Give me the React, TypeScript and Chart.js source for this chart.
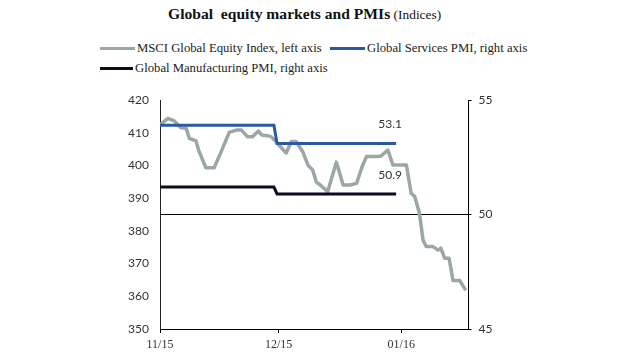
import React, { useEffect, useRef } from "react";
import { Chart, registerables } from "chart.js";

Chart.register(...registerables);

// Days since 1 Nov 2015
const msciDays = [0, 2, 3.6, 5.3, 6.6, 7.4, 9.1, 9.9, 11.6, 13.7, 15.4, 17.5, 19.3, 20.6, 22.1, 23.4, 24.9, 25.7, 27.1, 28.1, 28.9, 31.9, 33.2, 34.4, 36.1, 37.4, 38.6, 39.5, 41, 42.4, 44.6, 46.3, 48, 49.7, 51.1, 52.2, 54.7, 55.9, 57.6, 58.9, 62.3, 63.5, 64.4, 65.6, 66.5, 67.3, 69, 70.3, 71, 72, 73.1, 74.1, 75.8, 77.3];
const msciValues = [412.4, 414.4, 413.6, 411.5, 411.4, 408.3, 407.5, 404.2, 399.3, 399.3, 404.0, 410.1, 410.8, 410.8, 408.8, 408.8, 410.5, 409.3, 409.1, 408.8, 407.8, 403.8, 407.3, 407.3, 404.2, 400.1, 398.6, 395.0, 393.5, 392.0, 401.0, 394.0, 394.0, 394.5, 399.6, 402.7, 402.7, 402.9, 404.7, 400.1, 400.1, 391.5, 390.5, 385.4, 377.2, 375.2, 375.2, 374.1, 374.7, 371.6, 371.6, 364.8, 364.8, 361.8];

const pmiDays = [0, 28.8, 29.6, 59.7];
const servicesPMI = [53.9, 53.9, 53.1, 53.1];
const manufacturingPMI = [51.2, 51.2, 50.9, 50.9];

const tickDays = [0, 30, 61];
const tickLabels = ["11/15", "12/15", "01/16"];

const seriesNames = [
  "MSCI Global Equity Index, left axis",
  "Global Services PMI, right axis",
  "Global Manufacturing PMI, right axis",
];
const colors = { msci: "#9aa7a3", services: "#2a58a6", mfg: "#0b0b22" };

const toXY = (xs: number[], ys: number[]) => xs.map((x, i) => ({ x, y: ys[i] }));

const endLabelPlugin = {
  id: "endLabels",
  afterDatasetsDraw(chart: any) {
    const ctx = chart.ctx;
    ctx.save();
    ctx.font = "12px Lato";
    ctx.fillStyle = "#333";
    ctx.textAlign = "center";
    ctx.textBaseline = "middle";
    [0, 1].forEach((di) => {
      const meta = chart.getDatasetMeta(di);
      const pts = meta.data;
      const last = pts[pts.length - 1];
      const data = chart.data.datasets[di].data;
      const v = data[data.length - 1].y;
      ctx.fillText(v.toFixed(1), last.x - 6, last.y - 19);
    });
    ctx.restore();
  },
};

export default function App() {
  const ref = useRef<HTMLCanvasElement>(null);
  useEffect(() => {
    const chart = new Chart(ref.current!, {
      type: "line",
      data: {
        datasets: [
          {
            label: seriesNames[1],
            data: toXY(pmiDays, servicesPMI),
            yAxisID: "y1",
            borderColor: colors.services,
            borderWidth: 3,
            pointRadius: 0,
            tension: 0,
          },
          {
            label: seriesNames[2],
            data: toXY(pmiDays, manufacturingPMI),
            yAxisID: "y1",
            borderColor: colors.mfg,
            borderWidth: 3,
            pointRadius: 0,
            tension: 0,
          },
          {
            label: seriesNames[0],
            data: toXY(msciDays, msciValues),
            yAxisID: "y",
            borderColor: colors.msci,
            borderWidth: 3.5,
            pointRadius: 0,
            tension: 0,
            borderJoinStyle: "round",
          },
        ],
      },
      options: {
        responsive: false,
        animation: false,
        layout: { padding: { top: 100, left: 0, right: 0, bottom: 0 } },
        plugins: { legend: { display: false }, tooltip: { enabled: false }, title: { display: false } },
        scales: {
          x: {
            type: "linear",
            min: 0,
            max: 78,
            afterBuildTicks: (s: any) => {
              s.ticks = tickDays.map((v) => ({ value: v }));
            },
            afterFit: (s: any) => {
              s.height = 26;
            },
            ticks: {
              autoSkip: false,
              maxRotation: 0,
              padding: 5,
              color: "#333",
              font: { family: "Liberation Serif", size: 12 },
              callback: (v: any) => {
                const i = tickDays.indexOf(v);
                return i >= 0 ? tickLabels[i] : "";
              },
            },
            grid: { drawOnChartArea: false, drawTicks: true, tickLength: 4, tickColor: "#000", color: "#000" },
            border: { display: true, color: "#000", width: 1 },
          },
          y: {
            position: "left",
            min: 350,
            max: 420,
            afterFit: (s: any) => {
              s.width = 160;
            },
            ticks: {
              stepSize: 10,
              padding: 11,
              color: "#333",
              font: { family: "Lato", size: 12 },
            },
            grid: { drawOnChartArea: false, drawTicks: false, color: "rgba(0,0,0,0)" },
            border: { display: true, color: "#222", width: 1 },
          },
          y1: {
            position: "right",
            min: 45,
            max: 55,
            afterFit: (s: any) => {
              s.width = 151.5;
            },
            ticks: {
              stepSize: 5,
              padding: 7,
              color: "#333",
              font: { family: "Lato", size: 12 },
            },
            grid: {
              drawOnChartArea: true,
              drawTicks: true,
              tickLength: 3,
              tickColor: "#000",
              color: (c: any) => (c.tick && c.tick.value === 50 ? "#000" : "rgba(0,0,0,0)"),
              lineWidth: 1,
            },
            border: { display: true, color: "#000", width: 1 },
          },
        },
      },
      plugins: [endLabelPlugin],
    } as any);
    return () => chart.destroy();
  }, []);

  const legendText: React.CSSProperties = {
    fontFamily: "Liberation Serif",
    fontSize: 12.7,
    color: "#222",
    whiteSpace: "nowrap",
  };
  const item = (left: number, top: number, color: string, text: string, lineW: number) => (
    <div style={{ position: "absolute", left, top, display: "flex", alignItems: "center", height: 14 }}>
      <div style={{ width: lineW, height: 3, background: color, marginRight: 2 }} />
      <span style={legendText}>{text}</span>
    </div>
  );

  return (
    <div style={{ position: "fixed", left: 0, top: 0, width: 620, height: 355, background: "#fff" }}>
      <div
        style={{
          position: "absolute",
          left: 168,
          top: 4,
          whiteSpace: "nowrap",
          fontFamily: "Liberation Serif",
          color: "#111",
          lineHeight: "20px",
        }}
      >
        <span style={{ fontWeight: "bold", fontSize: 15.6 }}>Global&nbsp; equity markets and PMIs</span>
        <span style={{ fontSize: 13.4 }}> (Indices)</span>
      </div>
      {item(100, 41, colors.msci, seriesNames[0], 35)}
      {item(330, 41, colors.services, seriesNames[1], 35)}
      {item(100, 61, colors.mfg, seriesNames[2], 33)}
      <canvas ref={ref} width={620} height={355} style={{ position: "absolute", left: 0, top: 0 }} />
    </div>
  );
}
